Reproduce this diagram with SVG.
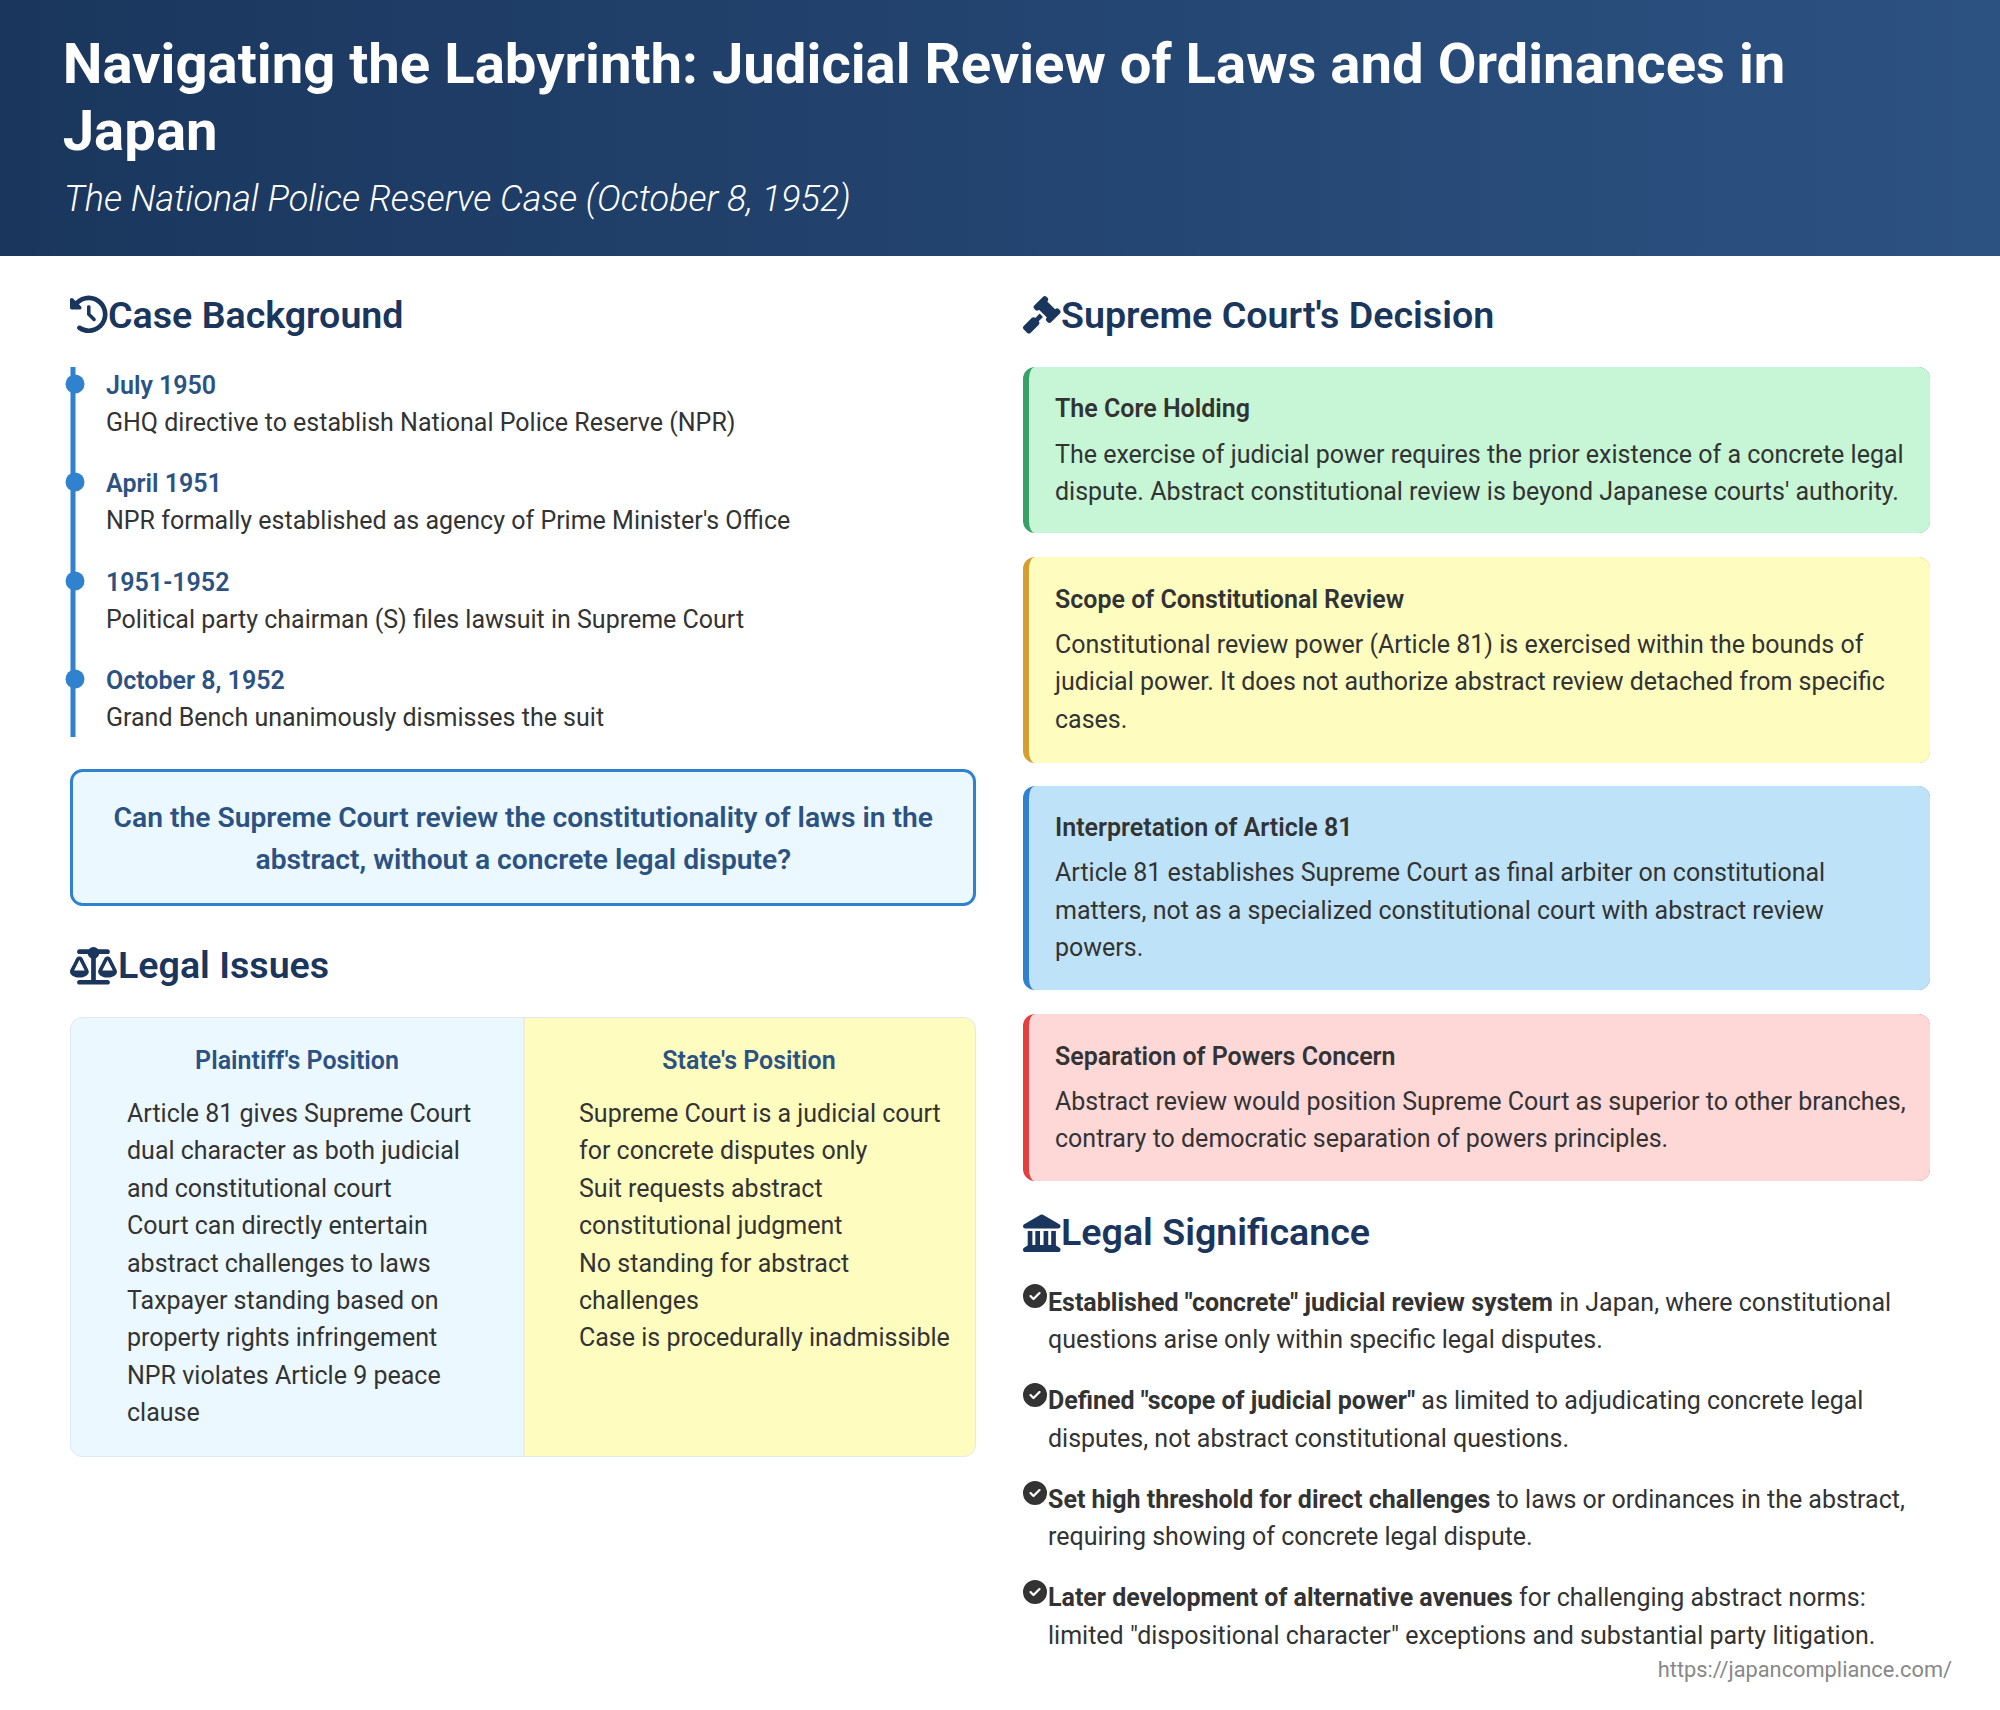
<svg xmlns="http://www.w3.org/2000/svg" width="2000" height="1710" viewBox="0 0 2000 1710">
<defs>
<linearGradient id="hdr" x1="0" y1="0" x2="1" y2="0"><stop offset="0" stop-color="#1a365d"/><stop offset="1" stop-color="#2c5282"/></linearGradient>
<path id="chk" fill="#333" fill-rule="evenodd" transform="scale(0.0469)" d="M256 512A256 256 0 1 0 256 0a256 256 0 1 0 0 512zM369 209L241 337c-9.400 9.400-24.600 9.400-33.900 0l-64-64c-9.400-9.400-9.400-24.600 0-33.900s24.600-9.400 33.900 0l47 47L335 175c9.400-9.400 24.600-9.400 33.900 0s9.400 24.600 0 33.900z"/>
<circle id="dot" r="9.5" fill="#3182ce"/>
</defs>
<style>
text{font-family:Roboto,"Liberation Sans",sans-serif}
.t{font-size:56.28px;font-weight:700;fill:#fff}
.s{font-size:36px;font-weight:300;font-style:italic;fill:#fff}
.h{font-size:37.6px;font-weight:600;fill:#1a365d}
.d{font-size:25px;font-weight:600;fill:#2c5282}
.b{font-size:25px;font-weight:400;fill:#333}
.q{font-size:28.24px;font-weight:600;fill:#2c5282;text-anchor:middle}
.p{font-size:25px;font-weight:600;fill:#2c5282;text-anchor:middle}
.c{font-size:25px;font-weight:600;fill:#333}
.f{font-size:21.8px;fill:#888;text-anchor:end}
.i{fill:#1a365d}
tspan.m{font-weight:700}
</style>
<rect width="2000" height="1710" fill="#fff"/>
<g id="header">
<rect width="2000" height="256" fill="url(#hdr)"/>
<text class="t" x="62.700" y="83">Navigating the Labyrinth: Judicial Review of Laws and Ordinances in</text>
<text class="t" x="62.700" y="150">Japan</text>
<text class="s" x="64" y="211">The National Police Reserve Case (October 8, 1952)</text>
</g>
<g id="case-background">
<path class="i" transform="translate(70 295.500) scale(0.0734)" d="M75 75L41 41C25.900 25.900 0 36.600 0 57.900V168c0 13.300 10.700 24 24 24H134.100c21.400 0 32.100-25.900 17-41l-30.800-30.800C155 85.500 203 64 256 64c106 0 192 86 192 192s-86 192-192 192c-40.800 0-78.600-12.700-109.700-34.400c-14.500-10.100-34.400-6.600-44.600 7.900s-6.600 34.400 7.900 44.600C151.200 495 201.700 512 256 512c141.400 0 256-114.600 256-256S397.400 0 256 0C185.300 0 121.300 28.700 75 75zm181 53c-13.300 0-24 10.700-24 24V256c0 6.400 2.500 12.500 7 17l72 72c9.400 9.400 24.600 9.400 33.900 0s9.400-24.600 0-33.900l-65-65V152c0-13.300-10.700-24-24-24z"/>
<text class="h" x="108" y="328">Case Background</text>
</g>
<g id="timeline">
<rect x="70.500" y="367" width="5" height="370" fill="#3182ce"/>
<use href="#dot" x="75" y="384"/><use href="#dot" x="75" y="482"/><use href="#dot" x="75" y="581"/><use href="#dot" x="75" y="679"/>
<g id="event-1"><text class="d" x="106" y="394">July 1950</text><text class="b" x="106" y="431">GHQ directive to establish National Police Reserve (NPR)</text></g>
<g id="event-2"><text class="d" x="106" y="492">April 1951</text><text class="b" x="106" y="529">NPR formally established as agency of Prime Minister's Office</text></g>
<g id="event-3"><text class="d" x="106" y="591">1951-1952</text><text class="b" x="106" y="628">Political party chairman (S) files lawsuit in Supreme Court</text></g>
<g id="event-4"><text class="d" x="106" y="689">October 8, 1952</text><text class="b" x="106" y="726">Grand Bench unanimously dismisses the suit</text></g>
</g>
<g id="question">
<rect x="71.500" y="770.500" width="903" height="134" rx="11" fill="#ebf8ff" stroke="#3182ce" stroke-width="3"/>
<text class="q" x="523.300" y="827">Can the Supreme Court review the constitutionality of laws in the</text>
<text class="q" x="523.300" y="869">abstract, without a concrete legal dispute?</text>
</g>
<g id="legal-issues">
<path class="i" fill-rule="evenodd" transform="translate(70 947) scale(0.0734)" d="M384 32H512c17.700 0 32 14.300 32 32s-14.300 32-32 32H398.400c-5.200 25.800-22.900 47.100-46.400 57.300V448H512c17.700 0 32 14.300 32 32s-14.300 32-32 32H128c-17.700 0-32-14.300-32-32s14.300-32 32-32H288V153.300c-23.500-10.300-41.200-31.600-46.400-57.300H128c-17.700 0-32-14.300-32-32s14.300-32 32-32H256c14.600-19.400 37.800-32 64-32s49.400 12.600 64 32zM256 336h-.02c0-16.180 1.340-8.730-85.050-181.510-17.650-35.290-68.190-35.360-85.870 0C-2.060 328.750.02 320.330.02 336H0c0 44.180 57.310 80 128 80s128-35.820 128-80zM128 176l72 144H56l72-144zM639.980 336c0-16.180 1.340-8.730-85.050-181.510-17.650-35.290-68.190-35.360-85.870 0-87.120 174.260-85.040 165.840-85.040 181.510H384c0 44.180 57.310 80 128 80s128-35.820 128-80h-.02zM440 320l72-144 72 144H440z"/>
<text class="h" x="118" y="978">Legal Issues</text>
</g>
<g id="positions">
<g id="plaintiff">
<path d="M524 1017.500H82A11.500 11.500 0 0 0 70.500 1029V1445A11.500 11.500 0 0 0 82 1456.500H524Z" fill="#ebf8ff" stroke="#e2e8f0"/>
<text class="p" x="297" y="1069">Plaintiff's Position</text>
<text class="b" x="127" y="1122">Article 81 gives Supreme Court</text>
<text class="b" x="127" y="1159">dual character as both judicial</text>
<text class="b" x="127" y="1197">and constitutional court</text>
<text class="b" x="127" y="1234">Court can directly entertain</text>
<text class="b" x="127" y="1272">abstract challenges to laws</text>
<text class="b" x="127" y="1309">Taxpayer standing based on</text>
<text class="b" x="127" y="1346">property rights infringement</text>
<text class="b" x="127" y="1384">NPR violates Article 9 peace</text>
<text class="b" x="127" y="1421">clause</text>
</g>
<g id="state">
<path d="M524 1017.500H964A11.500 11.500 0 0 1 975.500 1029V1445A11.500 11.500 0 0 1 964 1456.500H524Z" fill="#fefcbf" stroke="#e2e8f0"/>
<text class="p" x="749" y="1069">State's Position</text>
<text class="b" x="579" y="1122">Supreme Court is a judicial court</text>
<text class="b" x="579" y="1159">for concrete disputes only</text>
<text class="b" x="579" y="1197">Suit requests abstract</text>
<text class="b" x="579" y="1234">constitutional judgment</text>
<text class="b" x="579" y="1272">No standing for abstract</text>
<text class="b" x="579" y="1309">challenges</text>
<text class="b" x="579" y="1346">Case is procedurally inadmissible</text>
</g>
</g>
<g id="decision">
<path class="i" transform="translate(1023 296) scale(0.0734)" d="M318.600 9.400c-12.500-12.500-32.800-12.500-45.300 0l-120 120c-12.500 12.500-12.500 32.800 0 45.300l16 16c12.500 12.500 32.800 12.500 45.300 0l4-4L325.400 293.400l-4 4c-12.500 12.500-12.500 32.800 0 45.300l16 16c12.500 12.500 32.800 12.500 45.300 0l120-120c12.500-12.500 12.500-32.800 0-45.300l-16-16c-12.500-12.500-32.800-12.500-45.300 0l-4 4L330.600 74.600l4-4c12.500-12.500 12.500-32.800 0-45.300l-16-16zm-152 288c-12.500-12.500-32.800-12.500-45.300 0l-112 112c-12.500 12.500-12.500 32.800 0 45.300l48 48c12.500 12.500 32.800 12.500 45.300 0l112-112c12.500-12.500 12.500-32.800 0-45.300l-1.400-1.400L272 285.300 226.700 240 168 298.700l-1.400-1.400z"/>
<text class="h" x="1061" y="328">Supreme Court's Decision</text>
</g>
<g id="card-holding">
<rect x="1023" y="367" width="907" height="166" rx="12" fill="#38a169"/><path d="M1035 367H1918A12 12 0 0 1 1930 379V521A12 12 0 0 1 1918 533H1035A6 12 0 0 1 1029 521V379A6 12 0 0 1 1035 367Z" fill="#c6f6d5"/>
<text class="c" x="1055" y="417">The Core Holding</text>
<text class="b" x="1055" y="463">The exercise of judicial power requires the prior existence of a concrete legal</text>
<text class="b" x="1055" y="500">dispute. Abstract constitutional review is beyond Japanese courts' authority.</text>
</g>
<g id="card-scope">
<rect x="1023" y="557" width="907" height="206" rx="12" fill="#d69e2e"/><path d="M1035 557H1918A12 12 0 0 1 1930 569V751A12 12 0 0 1 1918 763H1035A6 12 0 0 1 1029 751V569A6 12 0 0 1 1035 557Z" fill="#fefcbf"/>
<text class="c" x="1055" y="608">Scope of Constitutional Review</text>
<text class="b" x="1055" y="653">Constitutional review power (Article 81) is exercised within the bounds of</text>
<text class="b" x="1055" y="690">judicial power. It does not authorize abstract review detached from specific</text>
<text class="b" x="1055" y="728">cases.</text>
</g>
<g id="card-article">
<rect x="1023" y="786" width="907" height="204" rx="12" fill="#3182ce"/><path d="M1035 786H1918A12 12 0 0 1 1930 798V978A12 12 0 0 1 1918 990H1035A6 12 0 0 1 1029 978V798A6 12 0 0 1 1035 786Z" fill="#bee3f8"/>
<text class="c" x="1055" y="836">Interpretation of Article 81</text>
<text class="b" x="1055" y="881">Article 81 establishes Supreme Court as final arbiter on constitutional</text>
<text class="b" x="1055" y="919">matters, not as a specialized constitutional court with abstract review</text>
<text class="b" x="1055" y="956">powers.</text>
</g>
<g id="card-separation">
<rect x="1023" y="1014" width="907" height="167" rx="12" fill="#e53e3e"/><path d="M1035 1014H1918A12 12 0 0 1 1930 1026V1169A12 12 0 0 1 1918 1181H1035A6 12 0 0 1 1029 1169V1026A6 12 0 0 1 1035 1014Z" fill="#fed7d7"/>
<text class="c" x="1055" y="1065">Separation of Powers Concern</text>
<text class="b" x="1055" y="1110">Abstract review would position Supreme Court as superior to other branches,</text>
<text class="b" x="1055" y="1147">contrary to democratic separation of powers principles.</text>
</g>
<g id="significance">
<path class="i" transform="translate(1023 1214.500) scale(0.0734)" d="M240.100 4.200c9.800-5.600 21.900-5.600 31.800 0l171.800 98.100L448 104l0 .9 47.900 27.400c12.600 7.200 18.800 22 15.100 36s-16.400 23.800-30.900 23.800H32c-14.500 0-27.200-9.800-30.900-23.800s2.500-28.800 15.100-36L64 104.900V104l4.400-1.600L240.100 4.200zM64 224h64V416h40V224h64V416h48V224h64V416h40V224h64V420.300c.6 .3 1.200 .7 1.800 1.100l48 32c11.700 7.800 17 22.400 12.900 35.900S494.100 512 480 512H32c-14.100 0-26.500-9.200-30.600-22.700s1.200-28.100 12.900-35.900l48-32c.6-.4 1.200-.7 1.800-1.100V224z"/>
<text class="h" x="1061" y="1245">Legal Significance</text>
</g>
<g id="point-1"><use href="#chk" x="1023" y="1284"/>
<text class="b" x="1048" y="1311"><tspan class="m">Established "concrete" judicial review system</tspan> in Japan, where constitutional</text>
<text class="b" x="1048" y="1348">questions arise only within specific legal disputes.</text></g>
<g id="point-2"><use href="#chk" x="1023" y="1383"/>
<text class="b" x="1048" y="1409"><tspan class="m">Defined "scope of judicial power"</tspan> as limited to adjudicating concrete legal</text>
<text class="b" x="1048" y="1447">disputes, not abstract constitutional questions.</text></g>
<g id="point-3"><use href="#chk" x="1023" y="1481"/>
<text class="b" x="1048" y="1508"><tspan class="m">Set high threshold for direct challenges</tspan> to laws or ordinances in the abstract,</text>
<text class="b" x="1048" y="1545">requiring showing of concrete legal dispute.</text></g>
<g id="point-4"><use href="#chk" x="1023" y="1580"/>
<text class="b" x="1048" y="1606"><tspan class="m">Later development of alternative avenues</tspan> for challenging abstract norms:</text>
<text class="b" x="1048" y="1644">limited "dispositional character" exceptions and substantial party litigation.</text></g>
<text id="source" class="f" x="1952" y="1677">https://japancompliance.com/</text>
</svg>
